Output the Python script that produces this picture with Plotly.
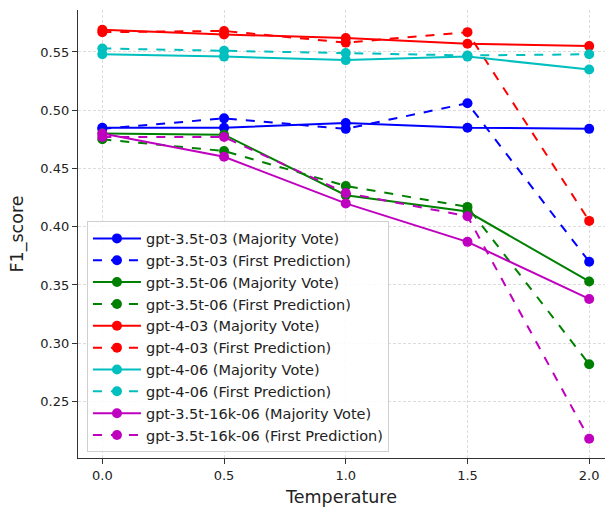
import plotly.graph_objects as go

temperature = [0.0, 0.5, 1.0, 1.5, 2.0]

gpt35t_03_mv = [0.485, 0.485, 0.489, 0.485, 0.484]
gpt35t_03_fp = [0.484, 0.493, 0.484, 0.506, 0.370]
gpt35t_06_mv = [0.480, 0.479, 0.427, 0.413, 0.353]
gpt35t_06_fp = [0.475, 0.465, 0.435, 0.417, 0.282]
gpt4_03_mv = [0.569, 0.565, 0.562, 0.557, 0.555]
gpt4_03_fp = [0.567, 0.568, 0.558, 0.567, 0.405]
gpt4_06_mv = [0.548, 0.546, 0.543, 0.546, 0.535]
gpt4_06_fp = [0.553, 0.551, 0.549, 0.547, 0.548]
gpt35t16k_06_mv = [0.480, 0.460, 0.420, 0.387, 0.338]
gpt35t16k_06_fp = [0.477, 0.477, 0.429, 0.409, 0.218]

series = [
    ("gpt-3.5t-03 (Majority Vote)", gpt35t_03_mv, "#0000FF", "solid"),
    ("gpt-3.5t-03 (First Prediction)", gpt35t_03_fp, "#0000FF", "dash"),
    ("gpt-3.5t-06 (Majority Vote)", gpt35t_06_mv, "#008000", "solid"),
    ("gpt-3.5t-06 (First Prediction)", gpt35t_06_fp, "#008000", "dash"),
    ("gpt-4-03 (Majority Vote)", gpt4_03_mv, "#FF0000", "solid"),
    ("gpt-4-03 (First Prediction)", gpt4_03_fp, "#FF0000", "dash"),
    ("gpt-4-06 (Majority Vote)", gpt4_06_mv, "#00BFBF", "solid"),
    ("gpt-4-06 (First Prediction)", gpt4_06_fp, "#00BFBF", "dash"),
    ("gpt-3.5t-16k-06 (Majority Vote)", gpt35t16k_06_mv, "#BF00BF", "solid"),
    ("gpt-3.5t-16k-06 (First Prediction)", gpt35t16k_06_fp, "#BF00BF", "dash"),
]

fig = go.Figure()
for name, vals, color, dash in series:
    fig.add_trace(go.Scatter(
        x=temperature, y=vals, name=name, mode="lines+markers",
        line=dict(color=color, width=2, dash=dash),
        marker=dict(color=color, size=10),
    ))

font = "DejaVu Sans, sans-serif"
fig.update_layout(
    width=605, height=510,
    margin=dict(l=78, r=0, t=10, b=52),
    paper_bgcolor="white", plot_bgcolor="white",
    font=dict(family=font, size=13, color="#222"),
    showlegend=True,
    legend=dict(
        x=0.017, y=0.528, xanchor="left", yanchor="top",
        bgcolor="rgba(255,255,255,0.85)", bordercolor="#d0d0d0", borderwidth=1,
        font=dict(family=font, size=14.5, color="#222"),
        tracegroupgap=0, itemwidth=48,
    ),
    xaxis=dict(
        range=[-0.1, 2.065], tickvals=[0.0, 0.5, 1.0, 1.5, 2.0],
        ticktext=["0.0", "0.5", "1.0", "1.5", "2.0"],
        showgrid=True, gridcolor="#dcdcdc", gridwidth=0.7, griddash="3px,2px",
        showline=True, linecolor="#333", linewidth=1.2,
        ticks="outside", ticklen=5, tickcolor="#333",
        zeroline=False, automargin=False,
        title=dict(text="Temperature", font=dict(size=17.5, family=font, color="#222"), standoff=9),
        tickfont=dict(size=13, family=font, color="#222"),
    ),
    yaxis=dict(
        range=[0.2015, 0.586], tickvals=[0.25, 0.30, 0.35, 0.40, 0.45, 0.50, 0.55],
        ticktext=["0.25", "0.30", "0.35", "0.40", "0.45", "0.50", "0.55"],
        showgrid=True, gridcolor="#dcdcdc", gridwidth=0.7, griddash="3px,2px",
        showline=True, linecolor="#333", linewidth=1.2,
        ticks="outside", ticklen=5, tickcolor="#333",
        zeroline=False, automargin=False,
        title=dict(text="F1_score", font=dict(size=17.5, family=font, color="#222"), standoff=12),
        tickfont=dict(size=13, family=font, color="#222"),
    ),
)

fig.write_html(
    "out.html",
    config={"displayModeBar": False},
    post_script="document.body.style.margin='0';document.body.style.overflow='hidden';",
)
